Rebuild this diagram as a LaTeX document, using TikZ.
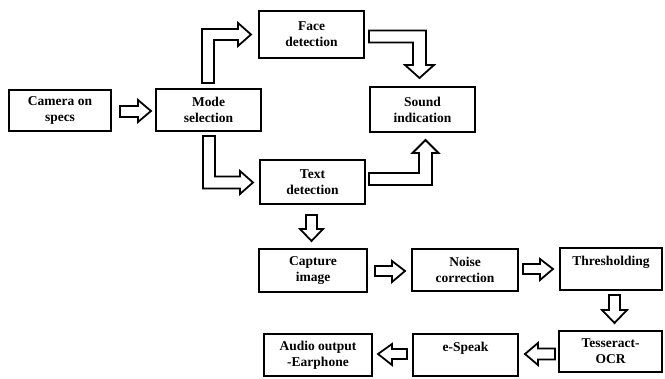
\documentclass[tikz,border=0pt]{standalone}
\usepackage{fontspec}
\setmainfont{Liberation Serif}
\begin{document}
\begin{tikzpicture}[x=1pt,y=-1pt,
  box/.style={draw=black,line width=2pt,rectangle,inner sep=0pt,align=center,
    font=\bfseries\fontsize{13.5}{16}\selectfont},
  barrow/.style={draw=black,line width=1.8pt,fill=white,line join=miter}]
\useasboundingbox (0,0) rectangle (665,379);
% boxes
\node[box,minimum width=102pt,minimum height=41pt] (cam) at (60,110.5) {Camera on\\specs};
\node[box,minimum width=105pt,minimum height=42pt] (mode) at (208.5,110) {Mode\\selection};
\node[box,minimum width=105pt,minimum height=47pt] (face) at (311.5,34.5) {Face\\detection};
\node[box,minimum width=105pt,minimum height=44pt] (text) at (312.5,182) {Text\\detection};
\node[box,minimum width=105pt,minimum height=45pt] (sound) at (422.5,109.5) {Sound\\indication};
\node[box,minimum width=108pt,minimum height=43pt] (cap) at (313,270.5) {Capture\\image};
\node[box,minimum width=106pt,minimum height=42pt] (noise) at (465,270) {Noise\\correction};
\node[box,minimum width=102pt,minimum height=42pt] (thr) at (611,269) {Thresholding\\\mbox{}};
\node[box,minimum width=103pt,minimum height=41pt] (tess) at (610.5,351.5) {Tesseract-\\OCR};
\node[box,minimum width=105pt,minimum height=42pt] (esp) at (465.5,355) {e-Speak\\\mbox{}};
\node[box,minimum width=108pt,minimum height=42pt] (aud) at (318,355) {Audio output\\-Earphone};
% block arrows
% camera -> mode
\draw[barrow] (120,106)--(138,106)--(138,100)--(151,111)--(138,122)--(138,117)--(120,117)--cycle;
% mode -> face
\draw[barrow] (202,83)--(202,29)--(238,29)--(238,23)--(251,34.5)--(238,46)--(238,40)--(214,40)--(214,83)--cycle;
% mode -> text
\draw[barrow] (203,136)--(215,136)--(215,176.5)--(240,176.5)--(240,171)--(253,182.5)--(240,194)--(240,188.5)--(203,188.5)--cycle;
% face -> sound
\draw[barrow] (369,30.5)--(426,30.5)--(426,65)--(434,65)--(419.5,78)--(405,65)--(413,65)--(413,42.5)--(369,42.5)--cycle;
% text -> sound
\draw[barrow] (369,185)--(432,185)--(432,153)--(438.5,153)--(425.5,140)--(412.5,153)--(419,153)--(419,173)--(369,173)--cycle;
% text -> capture
\draw[barrow] (306,215)--(317,215)--(317,229)--(323,229)--(311.5,241)--(300,229)--(306,229)--cycle;
% capture -> noise
\draw[barrow] (375,266)--(392,266)--(392,261)--(405,271)--(392,282)--(392,276)--(375,276)--cycle;
% noise -> thresholding
\draw[barrow] (523,264)--(540,264)--(540,259)--(553,269)--(540,280)--(540,274)--(523,274)--cycle;
% thresholding -> tesseract
\draw[barrow] (609,295)--(620,295)--(620,310)--(627,310)--(614.5,323)--(602,310)--(609,310)--cycle;
% tesseract -> espeak
\draw[barrow] (555,348.5)--(538,348.5)--(538,343)--(525,354)--(538,365)--(538,359.5)--(555,359.5)--cycle;
% espeak -> audio
\draw[barrow] (407,349)--(392,349)--(392,344)--(378,354)--(392,365)--(392,359)--(407,359)--cycle;
\end{tikzpicture}
\end{document}
